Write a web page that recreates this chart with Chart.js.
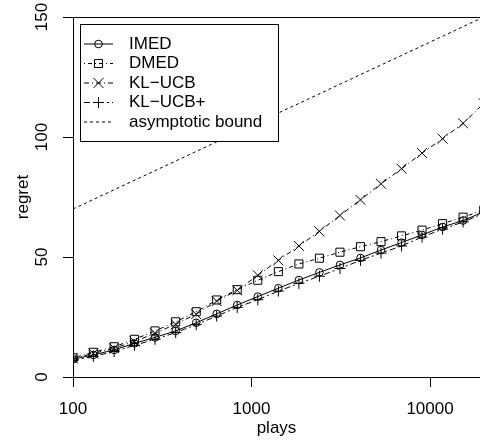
<!DOCTYPE html>
<html>
<head>
<meta charset="utf-8">
<script src="https://cdn.jsdelivr.net/npm/chart.js@4.4.1/dist/chart.umd.min.js"></script>
<style>
body { margin: 0; background: #fff; }
</style>
</head>
<body>
<canvas id="grafico" width="480" height="444"></canvas>
<script>
// valores
const plays = [100, 130, 170, 221, 288, 376, 490, 638, 832, 1084, 1414, 1843, 2401, 3129, 4078, 5314, 6925, 9024, 11759, 15324, 20000];
const imed = [7.4, 9.2, 11.3, 14, 16.5, 19.2, 22.6, 26.3, 30, 33.5, 37, 40.4, 43.6, 46.7, 49.6, 52.9, 56, 59.2, 62.5, 65.2, 68.8];
const dmed = [8, 10.3, 12.6, 15.7, 19.2, 23, 27.2, 32.1, 36.4, 40.3, 43.9, 47.1, 49.5, 52, 54.3, 56.4, 58.8, 61.2, 63.9, 66.6, 69.6];
const klucb = [7.7, 9.8, 12, 14.8, 18.2, 22, 26.2, 31.6, 36.1, 42.4, 48.6, 54.6, 60.7, 67.3, 73.8, 80.5, 86.8, 93.3, 99.3, 105.7, 114];
const klucbPlus = [6.9, 8.6, 10.6, 13.2, 15.7, 18.5, 21.8, 25.4, 29, 32.2, 35.8, 39, 42, 45.2, 48.6, 51.6, 54.6, 58.3, 61.6, 64.6, 68.2];
const boundPlays = [100, 20000];
const boundRegret = [70, 150];
const xTicks = [100, 1000, 10000];
const yTicks = [0, 50, 100, 150];

const fonte = "'Liberation Sans', Arial, Helvetica, sans-serif";

document.addEventListener("DOMContentLoaded", function() {
    desenharGrafico();
})

function pontos(xs, ys) {
    let lista = [];
    for (let i = 0; i < xs.length; i++) {
        lista.push({ x: xs[i], y: ys[i] });
    }
    return lista;
}

function serie(label, xs, ys, estilo, raio, tracejado) {
    return {
        label: label,
        data: pontos(xs, ys),
        borderColor: '#000',
        borderWidth: 1,
        borderDash: tracejado,
        pointStyle: estilo,
        pointRadius: raio,
        pointBorderColor: '#000',
        pointBackgroundColor: 'rgba(0,0,0,0)',
        pointBorderWidth: 1,
        tension: 0
    };
}

function marcador(ctx, estilo, raio, x, y) {
    ctx.beginPath();
    if (estilo === 'circle') {
        ctx.arc(x, y, raio, 0, Math.PI * 2);
    } else if (estilo === 'rect') {
        let s = raio * Math.SQRT1_2;
        ctx.rect(x - s, y - s, 2 * s, 2 * s);
    } else if (estilo === 'crossRot') {
        let s = raio * Math.SQRT1_2;
        ctx.moveTo(x - s, y - s); ctx.lineTo(x + s, y + s);
        ctx.moveTo(x - s, y + s); ctx.lineTo(x + s, y - s);
    } else if (estilo === 'cross') {
        ctx.moveTo(x, y - raio); ctx.lineTo(x, y + raio);
        ctx.moveTo(x - raio, y); ctx.lineTo(x + raio, y);
    }
    ctx.stroke();
}

const extras = {
    id: 'extras',
    afterDraw(chart) {
        const ctx = chart.ctx;
        const area = chart.chartArea;
        ctx.save();
        ctx.strokeStyle = '#000';
        ctx.fillStyle = '#000';
        ctx.lineWidth = 1;

        // linha de cima da caixa
        ctx.beginPath();
        ctx.moveTo(area.left, Math.round(area.top) + 0.5);
        ctx.lineTo(area.right, Math.round(area.top) + 0.5);
        ctx.stroke();

        // rotulos do eixo y, girados
        ctx.font = '17px ' + fonte;
        ctx.textAlign = 'center';
        ctx.textBaseline = 'middle';
        const escalaY = chart.scales.y;
        for (let i = 0; i < yTicks.length; i++) {
            let py = escalaY.getPixelForValue(yTicks[i]);
            ctx.save();
            ctx.translate(42.5, py);
            ctx.rotate(-Math.PI / 2);
            ctx.fillText(String(yTicks[i]), 0, 0);
            ctx.restore();
        }

        // legenda
        const bx = 80.5, by = 24.5, bw = 198, bh = 117;
        ctx.fillStyle = '#fff';
        ctx.fillRect(bx, by, bw, bh);
        ctx.strokeRect(bx, by, bw, bh);
        ctx.fillStyle = '#000';
        ctx.textAlign = 'left';
        const linhas = [44, 63.5, 83, 102.5, 122];
        chart.data.datasets.forEach(function(ds, i) {
            let ly = linhas[i];
            ctx.save();
            ctx.setLineDash(ds.borderDash || []);
            ctx.beginPath();
            ctx.moveTo(84, ly);
            ctx.lineTo(113, ly);
            ctx.stroke();
            ctx.restore();
            if (ds.pointRadius > 0) {
                marcador(ctx, ds.pointStyle, ds.pointRadius, 98.5, ly);
            }
            ctx.fillText(ds.label, 129, ly);
        });
        ctx.restore();
    }
};

function desenharGrafico() {
    Chart.defaults.font.family = fonte;
    Chart.defaults.font.size = 17;
    Chart.defaults.color = '#000';

    const ctx = document.getElementById('grafico');
    new Chart(ctx, {
        type: 'line',
        data: {
            datasets: [
                serie('IMED', plays, imed, 'circle', 3.8, []),
                serie('DMED', plays, dmed, 'rect', 5.7, [1, 3, 4, 3]),
                serie('KL\u2212UCB', plays, klucb, 'crossRot', 7, [5, 3, 1, 3]),
                serie('KL\u2212UCB+', plays, klucbPlus, 'cross', 5.5, [6, 3, 2, 3]),
                serie('asymptotic bound', boundPlays, boundRegret, 'circle', 0, [3, 3])
            ]
        },
        options: {
            responsive: false,
            animation: false,
            layout: { autoPadding: false, padding: { top: 17, right: 0, left: 0, bottom: 0 } },
            plugins: {
                legend: { display: false },
                tooltip: { enabled: false }
            },
            scales: {
                x: {
                    type: 'logarithmic',
                    min: 100,
                    max: 19055,
                    afterBuildTicks: function(scale) {
                        scale.ticks = xTicks.map(v => ({ value: v }));
                    },
                    afterFit: function(scale) {
                        scale.height = 67;
                        scale.paddingLeft = 0;
                        scale.paddingRight = 0;
                    },
                    ticks: {
                        padding: 12,
                        maxRotation: 0,
                        callback: function(v) { return String(v); }
                    },
                    grid: { drawOnChartArea: false, drawTicks: true, tickLength: 10, color: '#000' },
                    border: { display: true, color: '#000', width: 1 },
                    title: { display: true, text: 'plays', padding: { top: 0, bottom: 5 } }
                },
                y: {
                    min: 0,
                    max: 150,
                    afterBuildTicks: function(scale) {
                        scale.ticks = yTicks.map(v => ({ value: v }));
                    },
                    afterFit: function(scale) {
                        scale.width = 73;
                        scale.paddingTop = 0;
                        scale.paddingBottom = 0;
                    },
                    ticks: { display: false },
                    grid: { drawOnChartArea: false, drawTicks: true, tickLength: 10, color: '#000' },
                    border: { display: true, color: '#000', width: 1 },
                    title: { display: true, text: 'regret', padding: { top: 13, bottom: 0 } }
                }
            }
        },
        plugins: [extras]
    });
}
</script>
</body>
</html>
